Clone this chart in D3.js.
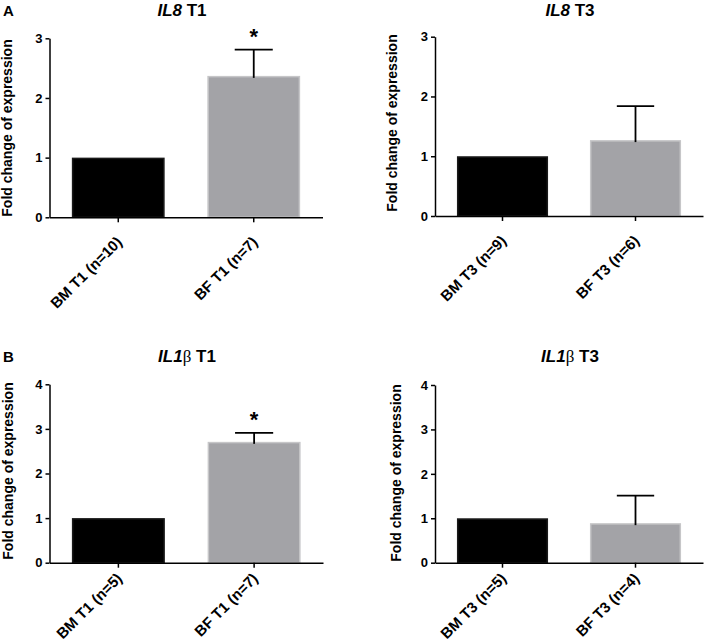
<!DOCTYPE html>
<html>
<head>
<meta charset="utf-8">
<script src="https://cdn.jsdelivr.net/npm/d3@7"></script>
<style>
  html, body { margin: 0; padding: 0; background: #fff; }
  svg text { font-family: "Liberation Sans", Arial, sans-serif; font-weight: bold; fill: #000; }
</style>
</head>
<body>
<svg id="chart" width="709" height="642"></svg>
<script>
// ---- data ----
const categoriesIL8T1 = ["BM T1 (n=10)", "BF T1 (n=7)"];
const valuesIL8T1 = [1.0, 2.37];
const errorsIL8T1 = [0, 0.44];
const signifIL8T1 = [false, true];

const categoriesIL8T3 = ["BM T3 (n=9)", "BF T3 (n=6)"];
const valuesIL8T3 = [1.0, 1.27];
const errorsIL8T3 = [0, 0.57];
const signifIL8T3 = [false, false];

const categoriesIL1bT1 = ["BM T1 (n=5)", "BF T1 (n=7)"];
const valuesIL1bT1 = [1.0, 2.71];
const errorsIL1bT1 = [0, 0.20];
const signifIL1bT1 = [false, true];

const categoriesIL1bT3 = ["BM T3 (n=5)", "BF T3 (n=4)"];
const valuesIL1bT3 = [1.0, 0.89];
const errorsIL1bT3 = [0, 0.62];
const signifIL1bT3 = [false, false];

const ticksIL8 = [0, 1, 2, 3];
const ticksIL1b = [0, 1, 2, 3, 4];
const yLabel = "Fold change of expression";
const barColors = ["#000000", "#a3a3a7"];
const barStrokes = ["#1a1a1a", "#c6c6c8"];

// ---- drawing ----
const svg = d3.select("#chart");

function drawPanel(opts) {
  const { cats, vals, errs, sig, ticks, x0, x1, yBottom, yTop, gene, time, letter, labelX, labelY, titleX, titleY, xlabDy } = opts;
  const g = svg.append("g");
  const x = d3.scaleBand().domain(cats).range([x0, x1]).paddingInner(0.315).paddingOuter(0.165);
  const y = d3.scaleLinear().domain([0, d3.max(ticks)]).range([yBottom, yTop]);

  // bars
  g.selectAll("rect.bar").data(vals).enter().append("rect")
    .attr("class", "bar")
    .attr("x", (d, i) => x(cats[i]) + 0.75)
    .attr("width", x.bandwidth() - 1.5)
    .attr("y", d => y(d) + 0.75)
    .attr("height", d => y(0) - y(d) - 0.75)
    .attr("fill", (d, i) => barColors[i])
    .attr("stroke", (d, i) => barStrokes[i])
    .attr("stroke-width", 1.5);

  // error bars (upper only)
  const capW = x.bandwidth() * 0.41;
  vals.forEach((v, i) => {
    if (!errs[i]) return;
    const cx = x(cats[i]) + x.bandwidth() / 2;
    g.append("line").attr("x1", cx).attr("x2", cx)
      .attr("y1", y(v) + 2).attr("y2", y(v + errs[i]))
      .attr("stroke", "#000").attr("stroke-width", 1.8);
    g.append("line").attr("x1", cx - capW / 2).attr("x2", cx + capW / 2)
      .attr("y1", y(v + errs[i])).attr("y2", y(v + errs[i]))
      .attr("stroke", "#000").attr("stroke-width", 1.8);
    if (sig[i]) {
      g.append("text").attr("x", cx).attr("y", y(v + errs[i]) - 6)
        .attr("text-anchor", "middle").style("font-size", "22px").text("*");
    }
  });

  // y axis
  const yAxis = g.append("g").attr("transform", `translate(${x0},0)`)
    .call(d3.axisLeft(y).tickValues(ticks).tickFormat(d3.format("d")).tickSize(4).tickSizeOuter(0));
  yAxis.select(".domain").attr("stroke-width", 1.5);
  yAxis.selectAll(".tick line").attr("stroke-width", 1.5);
  yAxis.selectAll(".tick text").attr("x", -7).style("font-size", "13px")
    .style("font-family", "Liberation Sans, Arial, sans-serif").style("font-weight", "bold");

  // x axis
  const xAxis = g.append("g").attr("transform", `translate(0,${yBottom})`)
    .call(d3.axisBottom(x).tickSize(5).tickSizeOuter(0));
  xAxis.select(".domain").attr("stroke-width", 1.5);
  xAxis.selectAll(".tick line").attr("stroke-width", 1.5);
  xAxis.selectAll(".tick text")
    .attr("x", 0).attr("y", 0).attr("dy", "0.35em")
    .attr("transform", `translate(1,${xlabDy}) rotate(-45)`)
    .attr("text-anchor", "end")
    .style("font-size", "15px")
    .style("font-family", "Liberation Sans, Arial, sans-serif").style("font-weight", "bold");

  // y label
  g.append("text").attr("transform", `translate(${labelX},${labelY}) rotate(-90)`)
    .attr("text-anchor", "middle").style("font-size", "14px").text(yLabel);

  // title
  const t = g.append("text").attr("x", titleX).attr("y", titleY).attr("text-anchor", "middle")
    .style("font-size", "17px");
  t.append("tspan").style("font-style", "italic").text(gene);
  if (opts.beta) {
    t.append("tspan").style("font-family", "Liberation Serif, serif").style("font-weight", "normal").text("β");
  }
  t.append("tspan").text(" " + time);

  if (letter) {
    g.append("text").attr("x", 3).attr("y", titleY).style("font-size", "15px").text(letter);
  }
}

drawPanel({ cats: categoriesIL8T1, vals: valuesIL8T1, errs: errorsIL8T1, sig: signifIL8T1, ticks: ticksIL8,
  x0: 49.5, x1: 322.5, yBottom: 217.3, yTop: 38.3, gene: "IL8", time: "T1", letter: "A",
  labelX: 11.5, labelY: 128, titleX: 182, titleY: 16, xlabDy: 22 });
drawPanel({ cats: categoriesIL8T3, vals: valuesIL8T3, errs: errorsIL8T3, sig: signifIL8T3, ticks: ticksIL8,
  x0: 435, x1: 703, yBottom: 216, yTop: 36.7, gene: "IL8", time: "T3", letter: null,
  labelX: 396.5, labelY: 123, titleX: 570, titleY: 16, xlabDy: 22 });
drawPanel({ cats: categoriesIL1bT1, vals: valuesIL1bT1, errs: errorsIL1bT1, sig: signifIL1bT1, ticks: ticksIL1b,
  x0: 49.5, x1: 323, yBottom: 562.7, yTop: 384.3, gene: "IL1", time: "T1", letter: "B", beta: true,
  labelX: 12.5, labelY: 471, titleX: 187, titleY: 362, xlabDy: 13 });
drawPanel({ cats: categoriesIL1bT3, vals: valuesIL1bT3, errs: errorsIL1bT3, sig: signifIL1bT3, ticks: ticksIL1b,
  x0: 435, x1: 703, yBottom: 562.7, yTop: 385, gene: "IL1", time: "T3", letter: null, beta: true,
  labelX: 401, labelY: 473, titleX: 570, titleY: 362, xlabDy: 13 });
</script>
</body>
</html>
